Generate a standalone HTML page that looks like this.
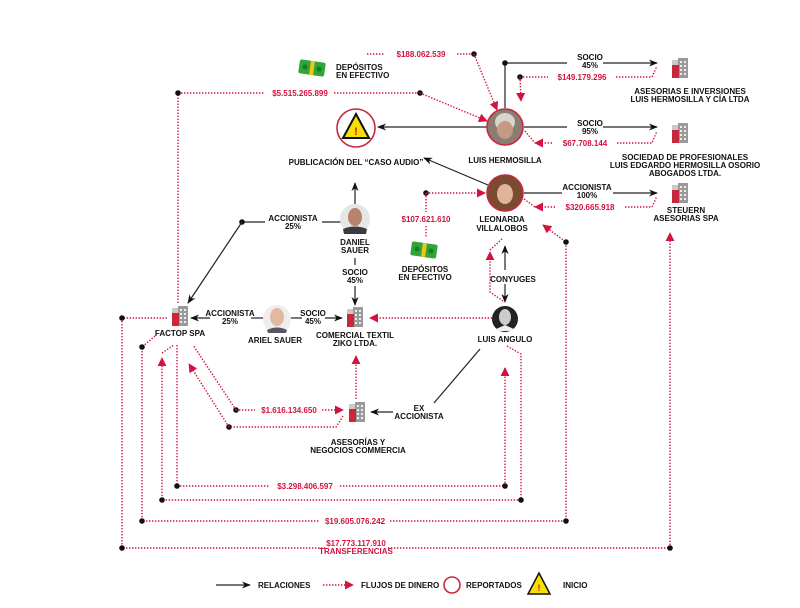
<!DOCTYPE html>
<html><head><meta charset="utf-8"><style>
html,body{margin:0;padding:0;background:#fff;}
svg{display:block;}
text{font-family:"Liberation Sans Narrow","Liberation Sans",sans-serif;font-weight:bold;font-size:8px;fill:#111;text-anchor:middle;}
.r{fill:#d3123f;}
.bl{stroke:#222;stroke-width:1.2;fill:none;}
.rd{stroke:#d3123f;stroke-width:1.4;fill:none;stroke-dasharray:1.4 1.6;}
.s{text-anchor:start;}
</style></head><body>
<svg width="800" height="608" viewBox="0 0 800 608" xmlns="http://www.w3.org/2000/svg">
<defs>
<marker id="ab" viewBox="0 0 10 10" refX="9" refY="5" markerWidth="9" markerHeight="9" orient="auto-start-reverse" markerUnits="userSpaceOnUse"><path d="M0,1 L10,5 L0,9 L3,5 z" fill="#111"/></marker>
<marker id="ar" viewBox="0 0 10 10" refX="9" refY="5" markerWidth="9" markerHeight="9" orient="auto" markerUnits="userSpaceOnUse"><path d="M0,0 L10,5 L0,10 z" fill="#d3123f"/></marker>
<g id="bld"><rect x="-8" y="-9" width="16" height="18" fill="#c9c9c9"/><rect x="-2" y="-11" width="10" height="20" fill="#9a9a9a"/><rect x="-8" y="-4" width="7" height="13" fill="#c8283e"/><g fill="#eee"><rect x="0" y="-8" width="2" height="2"/><rect x="4" y="-8" width="2" height="2"/><rect x="0" y="-4" width="2" height="2"/><rect x="4" y="-4" width="2" height="2"/><rect x="0" y="0" width="2" height="2"/><rect x="4" y="0" width="2" height="2"/><rect x="0" y="4" width="2" height="2"/><rect x="4" y="4" width="2" height="2"/></g></g>
<g id="money"><g transform="rotate(8)"><rect x="-13" y="-7" width="26" height="14" rx="2" fill="#2fa637"/><rect x="-2" y="-7" width="4" height="14" fill="#f0c419"/><circle cx="-7" cy="0" r="2.5" fill="#1d7a25"/><circle cx="7" cy="0" r="2.5" fill="#1d7a25"/></g></g>
</defs>

<line class="bl" x1="487" y1="127" x2="378" y2="127" marker-end="url(#ab)"/>
<line class="bl" x1="505" y1="108" x2="505" y2="63"/>
<line class="bl" x1="505" y1="63" x2="567" y2="63"/>
<line class="bl" x1="603" y1="63" x2="657" y2="63" marker-end="url(#ab)"/>
<circle cx="505" cy="63" r="2.8" fill="#111"/>
<line class="bl" x1="524" y1="127" x2="567" y2="127"/>
<line class="bl" x1="603" y1="127" x2="657" y2="127" marker-end="url(#ab)"/>
<line class="bl" x1="524" y1="193" x2="562" y2="193"/>
<line class="bl" x1="613" y1="193" x2="657" y2="193" marker-end="url(#ab)"/>
<line class="bl" x1="488" y1="185" x2="424" y2="158" marker-end="url(#ab)"/>
<line class="bl" x1="355" y1="205" x2="355" y2="183" marker-end="url(#ab)"/>
<line class="bl" x1="341" y1="222" x2="322" y2="222"/>
<line class="bl" x1="265" y1="222" x2="242" y2="222"/>
<circle cx="242" cy="222" r="2.8" fill="#111"/>
<line class="bl" x1="242" y1="222" x2="188" y2="303" marker-end="url(#ab)"/>
<line class="bl" x1="355" y1="258" x2="355" y2="265"/>
<line class="bl" x1="355" y1="286" x2="355" y2="305" marker-end="url(#ab)"/>
<line class="bl" x1="263" y1="318" x2="251" y2="318"/>
<line class="bl" x1="210" y1="318" x2="191" y2="318" marker-end="url(#ab)"/>
<line class="bl" x1="290" y1="318" x2="302" y2="318"/>
<line class="bl" x1="325" y1="318" x2="342" y2="318" marker-end="url(#ab)"/>
<line class="bl" x1="505" y1="270" x2="505" y2="246" marker-end="url(#ab)"/>
<line class="bl" x1="505" y1="284" x2="505" y2="302" marker-end="url(#ab)"/>
<line class="bl" x1="480" y1="349" x2="434" y2="403"/>
<line class="bl" x1="393" y1="412" x2="371" y2="412" marker-end="url(#ab)"/>

<line class="rd" x1="367" y1="54" x2="384" y2="54"/>
<line class="rd" x1="457" y1="54" x2="474" y2="54"/>
<circle cx="474" cy="54" r="2.8" fill="#111"/>
<line class="rd" x1="474" y1="54" x2="497" y2="110" marker-end="url(#ar)"/>
<polyline class="rd" points="178,303 178,93 265,93"/>
<line class="rd" x1="334" y1="93" x2="420" y2="93"/>
<circle cx="178" cy="93" r="2.8" fill="#111"/>
<circle cx="420" cy="93" r="2.8" fill="#111"/>
<line class="rd" x1="420" y1="93" x2="487" y2="121" marker-end="url(#ar)"/>
<line class="rd" x1="520" y1="77" x2="548" y2="77"/>
<circle cx="520" cy="77" r="2.8" fill="#111"/>
<line class="rd" x1="520" y1="77" x2="521" y2="101" marker-end="url(#ar)"/>
<polyline class="rd" points="616,77 652,77 657,66"/>
<line class="rd" x1="525" y1="131" x2="535" y2="143"/>
<line class="rd" x1="552" y1="143" x2="535" y2="143" marker-end="url(#ar)"/>
<polyline class="rd" points="617,143 652,143 657,131"/>
<line class="rd" x1="524" y1="199" x2="535" y2="207"/>
<line class="rd" x1="555" y1="207" x2="535" y2="207" marker-end="url(#ar)"/>
<polyline class="rd" points="625,207 652,207 657,196"/>
<circle cx="426" cy="193" r="2.8" fill="#111"/>
<line class="rd" x1="426" y1="193" x2="485" y2="193" marker-end="url(#ar)"/>
<line class="rd" x1="426" y1="193" x2="426" y2="212"/>
<line class="rd" x1="426" y1="226" x2="426" y2="238"/>
<polyline class="rd" points="503,301 490,292 490,252" marker-end="url(#ar)"/>
<line class="rd" x1="490" y1="250" x2="503" y2="238"/>
<line class="rd" x1="492" y1="318" x2="370" y2="318" marker-end="url(#ar)"/>
<line class="rd" x1="356" y1="399" x2="356" y2="356" marker-end="url(#ar)"/>
<circle cx="236" cy="410" r="2.8" fill="#111"/>
<line class="rd" x1="236" y1="410" x2="193" y2="345"/>
<line class="rd" x1="236" y1="410" x2="255" y2="410"/>
<line class="rd" x1="322" y1="410" x2="343" y2="410" marker-end="url(#ar)"/>
<circle cx="229" cy="427" r="2.8" fill="#111"/>
<polyline class="rd" points="343,416 336,427 229,427"/>
<line class="rd" x1="229" y1="427" x2="189" y2="364" marker-end="url(#ar)"/>
<polyline class="rd" points="177,345 177,486 270,486"/>
<polyline class="rd" points="340,486 505,486 505,368" marker-end="url(#ar)"/>
<circle cx="177" cy="486" r="2.8" fill="#111"/>
<circle cx="505" cy="486" r="2.8" fill="#111"/>
<polyline class="rd" points="507,346 521,354 521,500 162,500 162,358" marker-end="url(#ar)"/>
<line class="rd" x1="162" y1="353" x2="174" y2="345"/>
<circle cx="162" cy="500" r="2.8" fill="#111"/>
<circle cx="521" cy="500" r="2.8" fill="#111"/>
<polyline class="rd" points="155,336 142,347 142,521 320,521"/>
<polyline class="rd" points="390,521 566,521 566,242 543,225" marker-end="url(#ar)"/>
<circle cx="142" cy="347" r="2.8" fill="#111"/>
<circle cx="142" cy="521" r="2.8" fill="#111"/>
<circle cx="566" cy="521" r="2.8" fill="#111"/>
<circle cx="566" cy="242" r="2.8" fill="#111"/>
<polyline class="rd" points="167,318 122,318 122,548 325,548"/>
<polyline class="rd" points="388,548 670,548 670,233" marker-end="url(#ar)"/>
<circle cx="122" cy="318" r="2.8" fill="#111"/>
<circle cx="122" cy="548" r="2.8" fill="#111"/>
<circle cx="670" cy="548" r="2.8" fill="#111"/>

<circle cx="356" cy="128" r="19" fill="#fff" stroke="#c8283e" stroke-width="1.6"/>
<path d="M356,114 L369,138 L343,138 z" fill="#f5e000" stroke="#111" stroke-width="2"/>
<text x="356" y="135" class="r" style="font-size:11px">!</text>
<text x="356" y="165">PUBLICACIÓN DEL “CASO AUDIO”</text>

<circle cx="505" cy="127" r="18" fill="#8a7d74" stroke="#c8283e" stroke-width="1.6"/>
<ellipse cx="505" cy="122" rx="10" ry="9" fill="#d9d4cc"/>
<ellipse cx="505" cy="130" rx="8" ry="9" fill="#c49a85"/>
<text x="505" y="163">LUIS HERMOSILLA</text>

<circle cx="505" cy="193" r="18" fill="#7a4a33" stroke="#c8283e" stroke-width="1.6"/>
<ellipse cx="505" cy="194" rx="8" ry="10" fill="#e0b39b"/>
<text x="502" y="222">LEONARDA</text>
<text x="502" y="231">VILLALOBOS</text>

<circle cx="355" cy="219" r="15" fill="#e6e6e6"/>
<ellipse cx="355" cy="217" rx="7" ry="9" fill="#b7836b"/>
<path d="M343,229 Q355,224 367,229 L366,234 L344,234 z" fill="#3a3a45"/>
<text x="355" y="245">DANIEL</text>
<text x="355" y="253">SAUER</text>
<text x="355" y="275">SOCIO</text>
<text x="355" y="283">45%</text>
<text x="293" y="221">ACCIONISTA</text>
<text x="293" y="229">25%</text>

<use href="#bld" x="355" y="318"/>
<text x="355" y="338">COMERCIAL TEXTIL</text>
<text x="355" y="346">ZIKO LTDA.</text>

<circle cx="277" cy="319" r="14" fill="#eee"/>
<ellipse cx="277" cy="317" rx="7" ry="9" fill="#e2b8a2"/>
<path d="M267,330 Q277,325 287,330 L286,333 L268,333 z" fill="#556"/>
<text x="275" y="343">ARIEL SAUER</text>
<text x="230" y="316">ACCIONISTA</text>
<text x="230" y="324">25%</text>
<text x="313" y="316">SOCIO</text>
<text x="313" y="324">45%</text>

<use href="#bld" x="180" y="317"/>
<text x="180" y="336">FACTOP SPA</text>

<circle cx="505" cy="319" r="13" fill="#222"/>
<ellipse cx="505" cy="317" rx="6" ry="8" fill="#ccc"/>
<path d="M496,329 L505,325 L514,329 L512,331 L498,331 z" fill="#eee"/>
<text x="505" y="342">LUIS ANGULO</text>
<text x="513" y="282">CONYUGES</text>

<use href="#bld" x="357" y="413"/>
<text x="358" y="445">ASESORÍAS Y</text>
<text x="358" y="453">NEGOCIOS COMMERCIA</text>
<text x="419" y="411">EX</text>
<text x="419" y="419">ACCIONISTA</text>

<use href="#money" x="312" y="68"/>
<text x="336" y="70" class="s">DEPÓSITOS</text>
<text x="336" y="78" class="s">EN EFECTIVO</text>
<use href="#money" x="424" y="250"/>
<text x="425" y="272">DEPÓSITOS</text>
<text x="425" y="280">EN EFECTIVO</text>

<use href="#bld" x="680" y="69"/>
<text x="690" y="94">ASESORIAS E INVERSIONES</text>
<text x="690" y="102">LUIS HERMOSILLA Y CÍA LTDA</text>
<use href="#bld" x="680" y="134"/>
<text x="685" y="160">SOCIEDAD DE PROFESIONALES</text>
<text x="685" y="168">LUIS EDGARDO HERMOSILLA OSORIO</text>
<text x="685" y="176">ABOGADOS LTDA.</text>
<use href="#bld" x="680" y="194"/>
<text x="686" y="213">STEUERN</text>
<text x="686" y="221">ASESORIAS SPA</text>

<text x="590" y="60">SOCIO</text><text x="590" y="68">45%</text>
<text x="590" y="126">SOCIO</text><text x="590" y="134">95%</text>
<text x="587" y="190">ACCIONISTA</text><text x="587" y="198">100%</text>

<text class="r" x="421" y="57">$188.062.539</text>
<text class="r" x="300" y="96">$5.515.265.899</text>
<text class="r" x="582" y="80">$149.179.296</text>
<text class="r" x="585" y="146">$67.708.144</text>
<text class="r" x="590" y="210">$320.665.918</text>
<text class="r" x="426" y="222">$107.621.610</text>
<text class="r" x="289" y="413">$1.616.134.650</text>
<text class="r" x="305" y="489">$3.298.406.597</text>
<text class="r" x="355" y="524">$19.605.076.242</text>
<text class="r" x="356" y="546">$17.773.117.910</text>
<text class="r" x="356" y="554">TRANSFERENCIAS</text>

<line class="bl" x1="216" y1="585" x2="250" y2="585" marker-end="url(#ab)"/>
<text x="258" y="588" class="s">RELACIONES</text>
<line class="rd" x1="323" y1="585" x2="353" y2="585" marker-end="url(#ar)"/>
<text x="361" y="588" class="s">FLUJOS DE DINERO</text>
<circle cx="452" cy="585" r="8" fill="none" stroke="#c8283e" stroke-width="1.6"/>
<text x="466" y="588" class="s">REPORTADOS</text>
<path d="M539,573 L550,594 L528,594 z" fill="#f5e000" stroke="#111" stroke-width="1.5"/>
<text x="539" y="591" class="r" style="font-size:9px">!</text>
<text x="563" y="588" class="s">INICIO</text>
</svg>
</body></html>
